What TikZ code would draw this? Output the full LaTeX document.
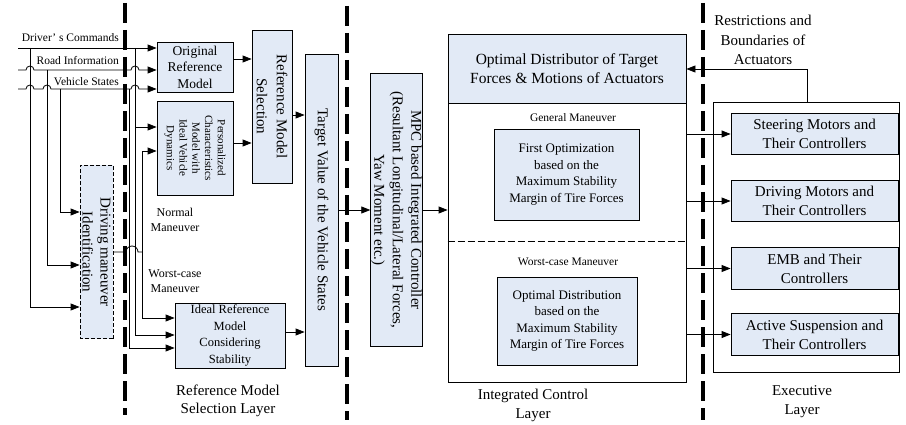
\documentclass[tikz,border=0pt]{standalone}
\usepackage{fontspec}
\setmainfont{Liberation Serif}
\usetikzlibrary{arrows.meta}
\definecolor{boxblue}{RGB}{226,234,246}

\begin{document}
\begin{tikzpicture}[x=1pt,y=-1pt,
  box/.style={draw,fill=boxblue,line width=0.8pt,align=center,inner sep=0.5pt},
  vbox/.style={box,rotate=-90},
  fs/.style 2 args={font=\fontsize{#1}{#2}\selectfont},
  arr/.style={-{Triangle[length=9pt,width=7pt]},line width=0.8pt},
  wire/.style={line width=0.8pt},
  layer/.style={line width=3.5pt,dash pattern=on 20pt off 7pt},
  lbl/.style={align=center,inner sep=0pt}]
\useasboundingbox (0,0) rectangle (906,425);

\foreach \x/\ya/\yb in {125/3/415,347/6/420,703/3/420}
  \draw[layer] (\x,\ya) -- (\x,\yb);

% inputs
\coordinate (drv) at (18,48);
\coordinate (road) at (18,70);
\coordinate (veh) at (18,89);
\node[lbl,fs={11.5}{14},anchor=east] (drvlbl) at (119,37.5) {Driver’ s Commands};
\node[lbl,fs={11.5}{14},anchor=east] (roadlbl) at (119,61) {Road Information};
\node[lbl,fs={11.5}{14},anchor=east] (vehlbl) at (119,81.5) {Vehicle States};

% reference model selection layer
\node[box,fs={13.5}{16.5},minimum width=76pt,minimum height=50pt] (orig) at (195,67) {Original\\Reference\\Model};
\node[vbox,fs={11}{12.8},minimum width=94pt,minimum height=76pt] (pers) at (195,148) {Personalized\\Characteristics\\Model with\\Ideal Vehicle\\Dynamics};
\node[vbox,fs={15}{20},minimum width=153pt,minimum height=40pt] (rms) at (272,106.5) {Reference Model\\Selection};
\node[box,fs={12.5}{16.5},minimum width=110pt,minimum height=65pt] (ideal) at (230,335.5) {Ideal Reference\\Model\\Considering\\Stability};
\node[vbox,fs={15}{18.5},minimum width=312pt,minimum height=33pt] (tgt) at (321.5,210) {Target Value of the Vehicle States};
\node[vbox,dash pattern=on 4pt off 2pt,fs={15}{18},minimum width=173pt,minimum height=33pt] (dmi) at (96.5,252) {Driving maneuver\\Identification};
\node[lbl,fs={12}{14.5}] (normal) at (175,220) {Normal\\Maneuver};
\node[lbl,fs={12}{14.5}] (worstcase) at (175,281) {Worst-case\\Maneuver};
\node[lbl,fs={15}{18}] (sellayer) at (228,401) {Reference Model\\Selection Layer};

\draw[arr] (drv) -- (orig.west |- drv);
\draw[arr] (road) -- (26,70) arc[start angle=180,end angle=0,radius=4pt] -- (131,70) arc[start angle=180,end angle=0,radius=4pt] -- (orig.west |- road);
\draw[arr] (veh) -- (26,89) arc[start angle=180,end angle=0,radius=4pt] -- (43,89) arc[start angle=180,end angle=0,radius=4pt] -- (131,89) arc[start angle=180,end angle=0,radius=4pt] -- (orig.west |- veh);
\foreach \x/\ya/\yb in {30/48/307,47/70/265,60/89/212}
  \draw[arr] (\x,\ya) |- (dmi.south |- 0,\yb);
\draw[arr] (135,48) |- (ideal.west |- 0,335);
\draw[arr] (135,127) -- (pers.south |- 0,127);
\draw[arr] (129,89) |- (ideal.west |- 0,348);
\draw[wire] (dmi.north) -- (126,252) arc[start angle=180,end angle=0,radius=6pt] -- (142,252);
\draw[arr] (142,252) |- (pers.south |- 0,151);
\draw[arr] (142,252) |- (ideal.west |- 0,318);
\draw[arr] (orig.east |- 0,59) -- (rms.south |- 0,59);
\draw[arr] (pers.north |- 0,143) -- (rms.south |- 0,143);
\draw[arr] (rms.north |- 0,115) -- (tgt.south |- 0,115);
\draw[arr] (ideal.east |- 0,332) -- (tgt.south |- 0,332);

% integrated control layer
\node[vbox,fs={15}{18.5},minimum width=273pt,minimum height=51pt] (mpc) at (396.5,210) {MPC based Integrated Controller\\(Resultant Longitudinal/Lateral Forces,\\Yaw Moment etc.)};
\node[draw,line width=0.8pt,minimum width=238pt,minimum height=348pt,inner sep=0pt] (intg) at (567,208) {};
\node[box,fs={15.5}{18.5},minimum width=238pt,minimum height=69pt] (dist) at (567,68.5) {Optimal Distributor of Target\\Forces \& Motions of Actuators};
\draw[wire,line width=0.6pt,dash pattern=on 7pt off 3pt] (intg.west |- 0,241) -- (intg.east |- 0,241);
\node[lbl,fs={11.5}{14}] (gen) at (573,118) {General Maneuver};
\node[box,fs={13}{16.5},minimum width=145pt,minimum height=91pt] (opt1) at (566.5,174.5) {First Optimization\\based on the\\Maximum Stability\\Margin of Tire Forces};
\node[lbl,fs={11.5}{14}] (worst) at (568,262) {Worst-case Maneuver};
\node[box,fs={13}{16.5},minimum width=140pt,minimum height=88pt] (opt2) at (567,321) {Optimal Distribution\\based on the\\Maximum Stability\\Margin of Tire Forces};
\node[lbl,fs={15}{19}] (ctrllayer) at (533,405) {Integrated Control\\Layer};

\draw[arr] (tgt) -- (mpc);
\draw[arr] (mpc) -- (mpc -| intg.west);

% executive layer
\node[draw,line width=0.8pt,minimum width=186pt,minimum height=270pt,inner sep=0pt] (exec) at (806,237) {};
\foreach \n/\y/\t in {steer/134/{Steering Motors and\\Their Controllers},drive/201/{Driving Motors and\\Their Controllers},emb/268.5/{EMB and Their\\Controllers},act/334.5/{Active Suspension and\\Their Controllers}}{
  \node[box,fs={15}{19},minimum width=167pt,minimum height=41.5pt] (\n) at (814.5,\y) {\t};
  \draw[arr] (intg.east |- \n) -- (\n);
}
\node[lbl,fs={15}{19.5}] (restr) at (763,40) {Restrictions and\\Boundaries of\\Actuators};
\node[lbl,fs={15}{19}] (execlayer) at (802,402) {Executive\\Layer};
\draw[arr] (exec.north -| 807,0) |- (intg.east |- 0,69);
\end{tikzpicture}
\end{document}
